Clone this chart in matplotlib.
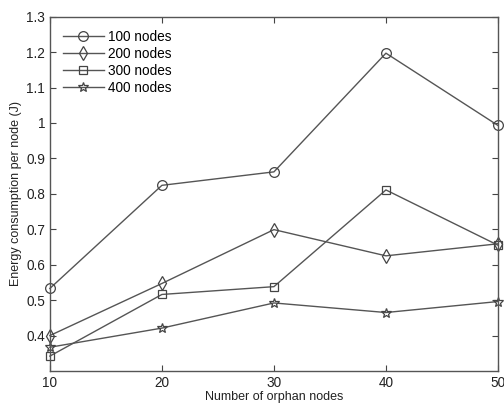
import matplotlib
matplotlib.use('Agg')
import matplotlib.pyplot as plt

plt.rcParams['font.family'] = ['Liberation Sans', 'DejaVu Sans']

# data
orphans = [10, 20, 30, 40, 50]
n100 = [0.533, 0.824, 0.862, 1.197, 0.993]
n200 = [0.400, 0.547, 0.699, 0.625, 0.659]
n300 = [0.342, 0.516, 0.538, 0.811, 0.655]
n400 = [0.367, 0.421, 0.492, 0.465, 0.496]
labels = ['100 nodes', '200 nodes', '300 nodes', '400 nodes']
markers = ['o', 'd', 's', '*']
msizes = [7, 7, 5.5, 7.5]

fig = plt.figure(figsize=(5.04, 4.07), dpi=100)
ax = fig.add_axes([0.099, 0.0885, 0.889, 0.8705])

lc = '#555555'
for ys, lab, m, ms in zip([n100, n200, n300, n400], labels, markers, msizes):
    ax.plot(orphans, ys, color=lc, lw=1.0, marker=m, ms=ms,
            mfc='none', mec='#444444', mew=0.9, label=lab, clip_on=False)

ax.set_xlim(10, 50)
ax.set_ylim(0.3, 1.3)
ax.set_xticks(orphans)
ax.set_yticks([0.4, 0.5, 0.6, 0.7, 0.8, 0.9, 1.0, 1.1, 1.2, 1.3])
ax.set_yticklabels(['0.4', '0.5', '0.6', '0.7', '0.8', '0.9', '1', '1.1', '1.2', '1.3'])
ax.tick_params(direction='in', top=True, right=True, labelsize=9.8,
               length=4, color='#444444', labelcolor='#222222')
for s in ax.spines.values():
    s.set_color('#555555')
    s.set_linewidth(1.0)

ax.set_xlabel('Number of orphan nodes', fontsize=9, color='#222222', labelpad=1)
ax.set_ylabel('Energy consumption per node (J)', fontsize=9, color='#222222', labelpad=3)

leg = ax.legend(loc='upper left', frameon=False, fontsize=9.8, handlelength=3.0,
                handletextpad=0.35, labelspacing=0.22, borderaxespad=0.55)

fig.savefig('out.png', dpi=100)
